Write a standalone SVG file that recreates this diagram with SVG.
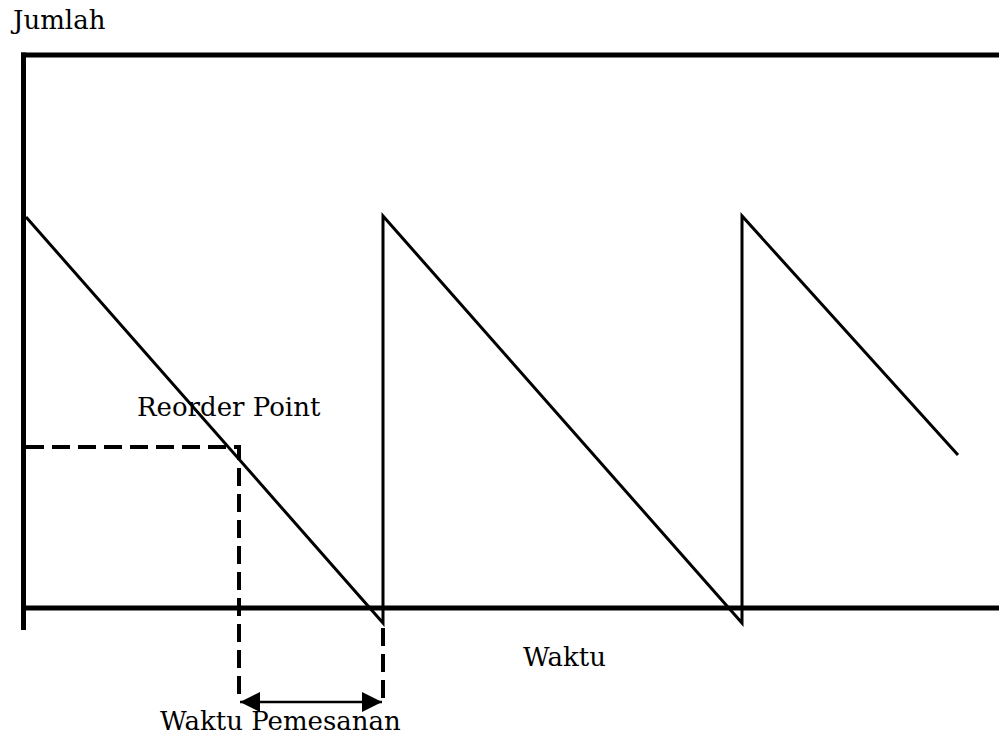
<svg xmlns="http://www.w3.org/2000/svg" width="999" height="738" viewBox="0 0 999 738">
<defs>
<style>
.t{font-family:"DejaVu Serif","Liberation Serif",serif;font-size:26px;fill:#000}
.axis{stroke:#000;stroke-width:5;fill:none}
.saw{stroke:#000;stroke-width:3;fill:none;stroke-linejoin:miter}
.dash{stroke:#000;stroke-width:4;fill:none;stroke-dasharray:18 8}
.arr{stroke:#000;stroke-width:2.5;fill:none}
</style>
<marker id="ah" viewBox="0 0 20 20" refX="20" refY="10" markerWidth="20" markerHeight="20" markerUnits="userSpaceOnUse" orient="auto-start-reverse">
<path d="M0,0 L20,10 L0,20 Z" fill="#000"/>
</marker>
</defs>
<rect width="999" height="738" fill="#fff"/>
<g id="axes">
<line class="axis" x1="21" y1="55" x2="999" y2="55"/>
<line class="axis" x1="23.5" y1="52.5" x2="23.5" y2="630"/>
<line class="axis" x1="21" y1="608" x2="999" y2="608"/>
</g>
<g id="connectors">
<polyline class="saw" points="26,217 383,623 383,216 742,623 742,216 958,455"/>
<polyline class="dash" points="26,447 239,447 239,702"/>
<line class="dash" x1="383" y1="628" x2="383" y2="702"/>
<line class="arr" x1="240" y1="702" x2="382" y2="702" marker-start="url(#ah)" marker-end="url(#ah)"/>
</g>
<g id="labels">
<text class="t" x="13" y="29">Jumlah</text>
<text class="t" x="137" y="416">Reorder Point</text>
<text class="t" x="523" y="666">Waktu</text>
<text class="t" x="160" y="730">Waktu Pemesanan</text>
</g>
</svg>
